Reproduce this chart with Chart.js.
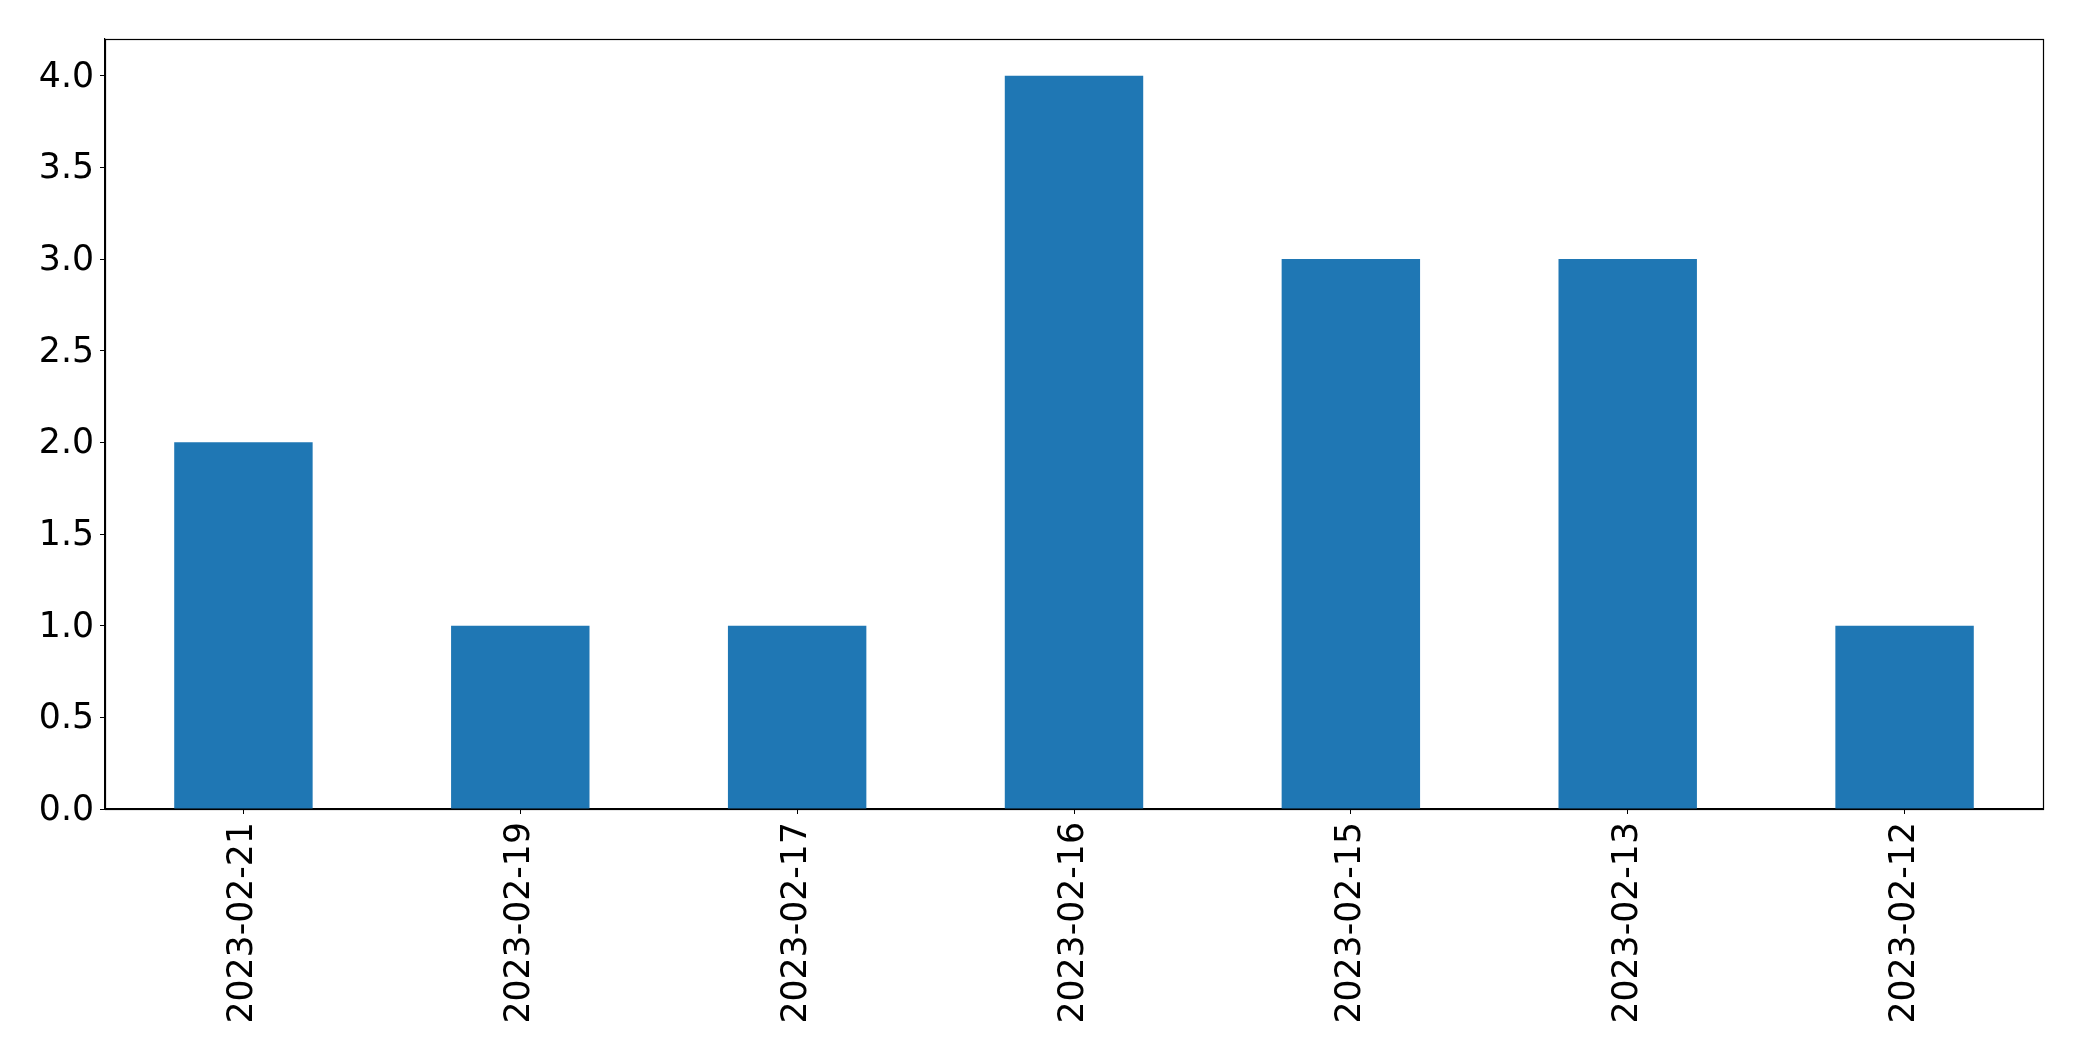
<!DOCTYPE html>
<html>
<head>
<meta charset="utf-8">
<script src="https://cdn.jsdelivr.net/npm/chart.js@4/dist/chart.umd.min.js"></script>
<style>
html,body{margin:0;padding:0;background:#fff;}
#c{display:block;}
</style>
</head>
<body>
<canvas id="c" width="2082" height="1061" style="width:2082px;height:1061px"></canvas>
<script>
const categories = ["2023-02-21","2023-02-19","2023-02-17","2023-02-16","2023-02-15","2023-02-13","2023-02-12"];
const values = [2,1,1,4,3,3,1];
const yMin = 0, yMax = 4.2, yStep = 0.5;

const frame = {
  id: 'frame',
  afterDraw(chart) {
    const {ctx, chartArea: a} = chart;
    ctx.save();
    ctx.strokeStyle = '#000';
    ctx.lineWidth = 1.2;
    ctx.strokeRect(Math.round(a.left)+0.5, Math.round(a.top)+0.5, Math.round(a.right-a.left), Math.round(a.bottom-a.top));
    ctx.restore();
  }
};

const font = {family: 'DejaVu Sans', size: 34.7};
new Chart(document.getElementById('c'), {
  type: 'bar',
  data: {
    labels: categories,
    datasets: [{data: values, backgroundColor: '#1f77b4', borderWidth: 0, categoryPercentage: 0.5, barPercentage: 1.0}]
  },
  options: {
    responsive: false,
    animation: false,
    devicePixelRatio: 1,
    layout: {padding: {top: 39, right: 39, left: 0, bottom: 0}},
    plugins: {legend: {display: false}, tooltip: {enabled: false}},
    scales: {
      x: {
        offset: true,
        grid: {display: true, drawOnChartArea: false, drawTicks: true, tickLength: 5, tickColor: '#000', offset: false},
        border: {display: true, color: '#000', width: 1.2},
        ticks: {color: '#000', font, maxRotation: 90, minRotation: 90, padding: 8, autoSkip: false},
        afterFit(s) { s.height = 252; }
      },
      y: {
        min: yMin, max: yMax,
        grid: {display: true, drawOnChartArea: false, drawTicks: true, tickLength: 5, tickColor: '#000'},
        border: {display: true, color: '#000', width: 1.2},
        ticks: {color: '#000', font, stepSize: yStep, includeBounds: false, padding: 6, labelOffset: 2, callback: v => Number(v).toFixed(1)},
        afterFit(s) { s.width = 105; }
      }
    }
  },
  plugins: [frame]
});
</script>
</body>
</html>
